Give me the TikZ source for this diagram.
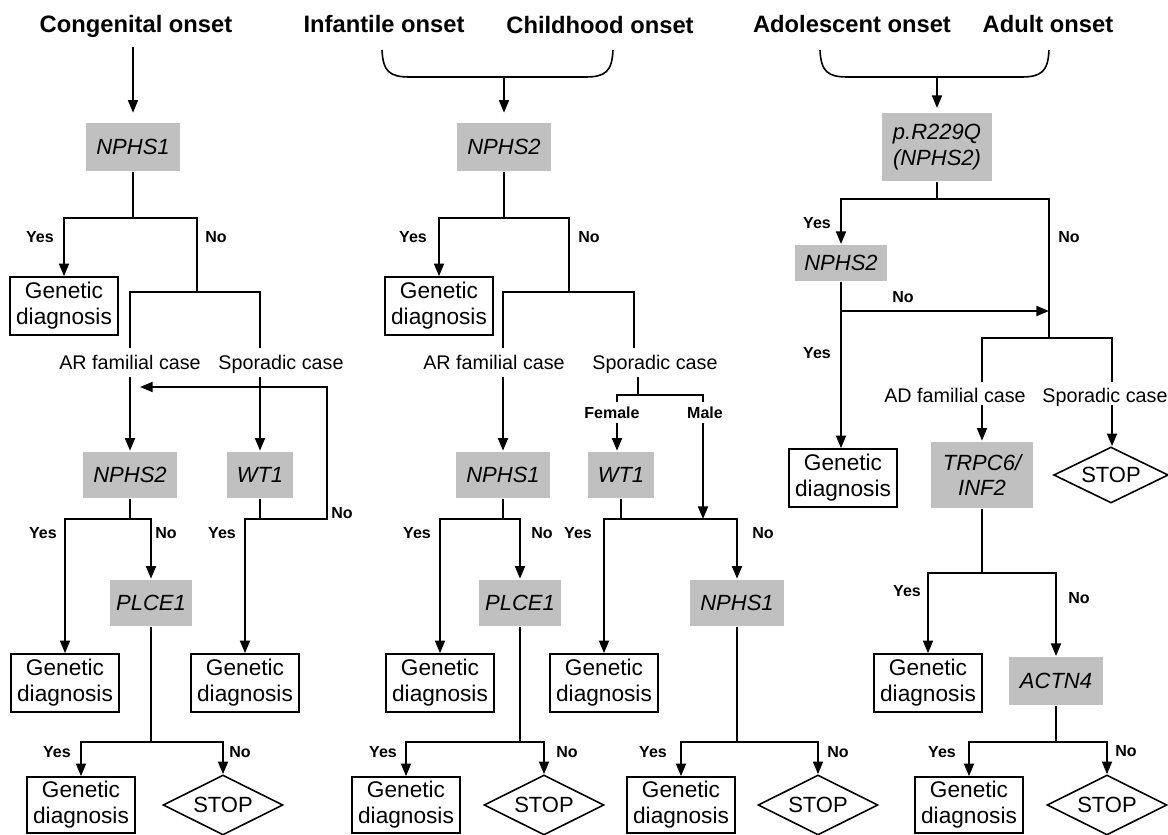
\documentclass[tikz,border=0pt]{standalone}
\usepackage{fontspec}
\setmainfont{Liberation Sans}
\usetikzlibrary{shapes.geometric,arrows.meta}
\definecolor{boxgray}{RGB}{192,192,192}
\begin{document}
\begin{tikzpicture}[x=0.75pt,y=-0.75pt,
  line width=1.5pt,
  arr/.style={-{Triangle[length=9.5pt,width=7.5pt]}},
  gene/.style={fill=boxgray, inner sep=0pt, align=center, font=\fontsize{16.5}{19}\selectfont\itshape},
  gd/.style={draw, line width=1.2pt, fill=white, inner sep=0pt, align=center, minimum width=81pt, minimum height=43.5pt, font=\fontsize{17}{19.5}\selectfont},
  stopd/.style={diamond, draw, line width=1.2pt, aspect=2, inner sep=0pt, minimum width=90pt, minimum height=45pt, font=\fontsize{16.5}{19}\selectfont},
  ttl/.style={font=\fontsize{17.8}{20}\selectfont\bfseries, anchor=base},
  case/.style={font=\fontsize{14.8}{17}\selectfont, anchor=base},
  yn/.style={font=\fontsize{12}{14}\selectfont\bfseries},
  brc/.style={line width=1.2pt}
]
\useasboundingbox (0,0) rectangle (1168,835);

% ---------- titles ----------
\node[ttl] (t1) at (136,32) {Congenital onset};
\node[ttl] (t2) at (384,32) {Infantile onset};
\node[ttl] (t3) at (600,33) {Childhood onset};
\node[ttl] (t4) at (852,32) {Adolescent onset};
\node[ttl] (t5) at (1048,32) {Adult onset};

% ---------- braces ----------
\draw[brc] (382,50) .. controls (383,72) and (390,77) .. (410,77) -- (585,77) .. controls (605,77) and (612,72) .. (613,50);
\draw[brc] (820,50) .. controls (821,72) and (828,77) .. (848,77) -- (1021,77) .. controls (1041,77) and (1048,72) .. (1049,50);

% ---------- gene boxes ----------
\node[gene, minimum width=70.5pt, minimum height=36pt] (g1) at (133,147) {NPHS1};
\node[gene, minimum width=70pt, minimum height=36pt] (g2) at (504,147) {NPHS2};
\node[gene, minimum width=82pt, minimum height=51pt] (g3) at (937,147) {p.R229Q\\(NPHS2)};
\node[gene, minimum width=69pt, minimum height=27pt] (g4) at (841,263) {NPHS2};
\node[gene, minimum width=70pt, minimum height=35pt] (g5) at (130,475) {NPHS2};
\node[gene, minimum width=49.5pt, minimum height=35pt] (g6) at (260,475) {WT1};
\node[gene, minimum width=70.5pt, minimum height=35pt] (g7) at (503,475) {NPHS1};
\node[gene, minimum width=49pt, minimum height=35pt] (g8) at (621,475) {WT1};
\node[gene, minimum width=62pt, minimum height=35pt] (g9) at (151,603) {PLCE1};
\node[gene, minimum width=62pt, minimum height=35pt] (g10) at (520,603) {PLCE1};
\node[gene, minimum width=70pt, minimum height=35pt] (g11) at (737,603) {NPHS1};
\node[gene, minimum width=76pt, minimum height=50pt] (g12) at (982,475) {TRPC6/\\INF2};
\node[gene, minimum width=70.5pt, minimum height=36pt] (g13) at (1056,681) {ACTN4};

% ---------- genetic diagnosis boxes ----------
\node[gd] (d1) at (64,306) {Genetic\\diagnosis};
\node[gd] (d2) at (439,306) {Genetic\\diagnosis};
\node[gd] (d3) at (843,478) {Genetic\\diagnosis};
\node[gd] (d4) at (65,683) {Genetic\\diagnosis};
\node[gd] (d5) at (245,683) {Genetic\\diagnosis};
\node[gd] (d6) at (440,683) {Genetic\\diagnosis};
\node[gd] (d7) at (604,683) {Genetic\\diagnosis};
\node[gd] (d8) at (928,683) {Genetic\\diagnosis};
\node[gd, minimum height=42pt] (d9) at (81,805) {Genetic\\diagnosis};
\node[gd, minimum height=42pt] (d10) at (406,805) {Genetic\\diagnosis};
\node[gd, minimum height=42pt] (d11) at (681,805) {Genetic\\diagnosis};
\node[gd, minimum height=42pt] (d12) at (969,805) {Genetic\\diagnosis};

% ---------- stop diamonds ----------
\node[stopd] (s1) at (223,805) {STOP};
\node[stopd] (s2) at (544,805) {STOP};
\node[stopd] (s3) at (818,805) {STOP};
\node[stopd, minimum width=86pt, minimum height=42pt] (s4) at (1111,475) {STOP};
\node[stopd] (s5) at (1107,805) {STOP};

% ---------- case labels ----------
\node[case] (c1) at (130,369) {AR familial case};
\node[case] (c2) at (281,369) {Sporadic case};
\node[case] (c3) at (494,369) {AR familial case};
\node[case] (c4) at (655,369) {Sporadic case};
\node[case] (c5) at (955,402) {AD familial case};
\node[case] (c6) at (1105,402) {Sporadic case};
\node[yn] (fe) at (612,413) {Female};
\node[yn] (ma) at (705,413) {Male};

% ---------- yes/no labels ----------
\node[yn] (y1) at (40,237) {Yes};
\node[yn] (n1) at (216,237) {No};
\node[yn] (y2) at (43,533) {Yes};
\node[yn] (n2) at (166,533) {No};
\node[yn] (y3) at (222,533) {Yes};
\node[yn] (n3) at (342,513) {No};
\node[yn] (y4) at (57,752) {Yes};
\node[yn] (n4) at (240,752) {No};
\node[yn] (y5) at (413,237) {Yes};
\node[yn] (n5) at (589,237) {No};
\node[yn] (y6) at (417,533) {Yes};
\node[yn] (n6) at (542,533) {No};
\node[yn] (y7) at (578,533) {Yes};
\node[yn] (n7) at (763,533) {No};
\node[yn] (y8) at (383,752) {Yes};
\node[yn] (n8) at (567,752) {No};
\node[yn] (y9) at (653,752) {Yes};
\node[yn] (n9) at (838,752) {No};
\node[yn] (y10) at (817,223) {Yes};
\node[yn] (n10) at (1069,237) {No};
\node[yn] (n11) at (903,297) {No};
\node[yn] (y11) at (817,353) {Yes};
\node[yn] (y12) at (907,591) {Yes};
\node[yn] (n12) at (1079,598) {No};
\node[yn] (y13) at (942,752) {Yes};
\node[yn] (n13) at (1126,751) {No};

% ---------- coordinates ----------
\coordinate (A1) at (133,47);
\coordinate (B1) at (504,77);
\coordinate (B2) at (937,77);
% left column
\coordinate (L1) at (133,218);
\coordinate (L3) at (197,292);
\coordinate (L4) at (130,348);
\coordinate (L5) at (260,348);
\coordinate (L6) at (130,377);
\coordinate (L7) at (260,377);
\coordinate (W1) at (260,519);
\coordinate (W2) at (327,387);
\coordinate (W4) at (140,387);
\coordinate (N2) at (130,519);
\coordinate (P1) at (151,742);
% middle column
\coordinate (M1) at (504,218);
\coordinate (M2) at (569,292);
\coordinate (M3) at (503,348);
\coordinate (M4) at (634,348);
\coordinate (M5) at (503,377);
\coordinate (M6) at (638,377);
\coordinate (M7) at (638,395);
\coordinate (F1) at (617,402);
\coordinate (F2) at (703,402);
\coordinate (F3) at (617,423);
\coordinate (F4) at (703,423);
\coordinate (M8) at (703,519);
\coordinate (M9) at (503,519);
\coordinate (M10) at (621,519);
\coordinate (M11) at (520,742);
\coordinate (M12) at (737,742);
% right column
\coordinate (R1) at (937,199);
\coordinate (R2) at (1049,338);
\coordinate (R3) at (841,311);
\coordinate (R4) at (1049,311);
\coordinate (R5) at (982,382);
\coordinate (R6) at (1112,382);
\coordinate (R7) at (982,405);
\coordinate (R8) at (1112,405);
\coordinate (R9) at (982,573);
\coordinate (R10) at (1056,742);

% ---------- connectors: left ----------
\draw[arr, shorten >=7pt] (A1) -- (A1 |- g1.north);
\draw (g1.south) -- (L1);
\draw[arr] (L1) -| (d1.north);
\draw (L1) -| (L3);
\draw (L4) |- (L3) -| (L5);
\draw[arr] (L6) -- (g5.north);
\draw[arr] (L7) -- (g6.north);
\draw (g6.south) -- (W1);
\draw[arr] (W1) -| (W2) -- (W4);
\draw[arr] (W1) -| (d5.north);
\draw (g5.south) -- (N2);
\draw[arr] (N2) -| (d4.north);
\draw[arr] (N2) -| (g9.north);
\draw (g9.south) -- (P1);
\draw[arr] (P1) -| (d9.north);
\draw[arr] (P1) -| (s1.north);

% ---------- connectors: middle ----------
\draw[arr, shorten >=7pt] (B1) -- (g2.north);
\draw (g2.south) -- (M1);
\draw[arr] (M1) -| (d2.north);
\draw (M1) -| (M2);
\draw (M3) |- (M2) -| (M4);
\draw[arr] (M5) -- (g7.north);
\draw (M6) -- (M7);
\draw (F1) |- (M7) -| (F2);
\draw[arr] (F3) -- (F3 |- g8.north);
\draw[arr] (F4) -- (M8);
\draw (g7.south) -- (M9);
\draw[arr] (M9) -| (d6.north);
\draw[arr] (M9) -| (g10.north);
\draw (g8.south) -- (M10);
\draw[arr] (M10) -| (d7.north);
\draw[arr] (M10) -| (g11.north);
\draw (g10.south) -- (M11);
\draw[arr] (M11) -| (d10.north);
\draw[arr] (M11) -| (s2.north);
\draw (g11.south) -- (M12);
\draw[arr] (M12) -| (d11.north);
\draw[arr] (M12) -| (s3.north);

% ---------- connectors: right ----------
\draw[arr, shorten >=3pt] (B2) -- (g3.north);
\draw (g3.south) -- (R1);
\draw[arr] (R1) -| (g4.north);
\draw (R1) -| (R2);
\draw (g4.south) -- (R3);
\draw[arr] (R3) -- (R3 |- d3.north);
\draw[arr] (R3) -- (R4);
\draw (R5) |- (R2) -| (R6);
\draw[arr] (R7) -- (g12.north);
\draw[arr] (R8) -- (R8 |- s4.north);
\draw (g12.south) -- (R9);
\draw[arr] (R9) -| (d8.north);
\draw[arr] (R9) -| (g13.north);
\draw (g13.south) -- (R10);
\draw[arr] (R10) -| (d12.north);
\draw[arr] (R10) -| (s5.north);
\end{tikzpicture}
\end{document}
